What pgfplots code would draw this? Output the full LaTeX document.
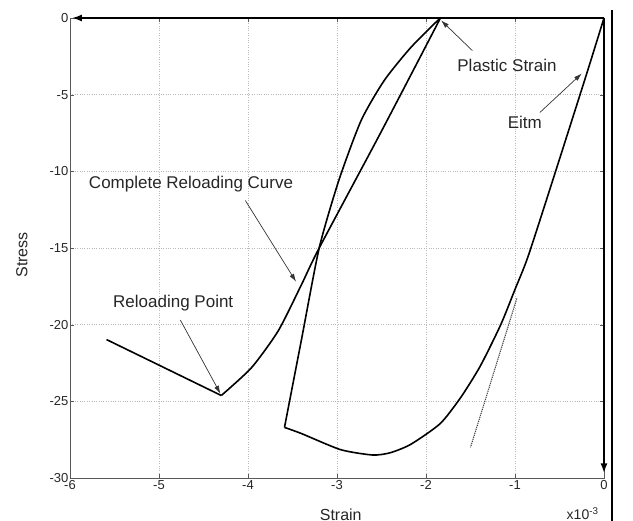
\documentclass[border=0pt]{standalone}
\usepackage{fontspec}
\setmainfont{Liberation Sans}
\usepackage{pgfplots}
\pgfplotsset{compat=1.18}
\usetikzlibrary{arrows.meta}
\begin{document}
\begin{tikzpicture}
\useasboundingbox (-70bp,-43bp) rectangle (563bp,478bp);
\begin{axis}[at={(0,0)}, anchor=south west, scale only axis,
  width=534bp, height=460bp,
  xmin=-6, xmax=0, ymin=-30, ymax=0,
  xtick={-6,-5,-4,-3,-2,-1,0}, xticklabels={-6,-5,-4,-3,-2,-1,0},
  ytick={-30,-25,-20,-15,-10,-5,0}, yticklabels={-30,-25,-20,-15,-10,-5,0},
  tick align=inside, major tick length=4bp,
  grid=major, grid style={gray!55, dotted, line width=0.7bp},
  axis line style={black!65, line width=0.9bp},
  tick style={black!65},
  ticklabel style={font=\fontsize{13bp}{15bp}\selectfont, text=black!85},
  yticklabel style={inner xsep=1.5bp},
  xticklabel style={inner ysep=2bp},
  clip=false,
  xlabel={Strain}, ylabel={Stress},
  label style={font=\fontsize{16bp}{18bp}\selectfont, text=black!85},
  xlabel style={at={(axis description cs:0.507,-0.08)}, anchor=center},
  ylabel style={at={(axis description cs:-0.09,0.485)}, anchor=center},
]
% envelope
\addplot[black, line width=1.6bp, smooth, tension=0.4] coordinates {
(0,0) (-0.19,-3.55) (-0.53,-9.75) (-0.85,-15.5) (-1.0,-17.7) (-1.16,-20.0)
(-1.39,-22.7) (-1.61,-24.75) (-1.84,-26.45) (-2.17,-27.8) (-2.40,-28.35)
(-2.60,-28.5) (-2.96,-28.15) (-3.40,-27.1) (-3.59,-26.7)};
% unloading
\addplot[black, line width=1.6bp, smooth, tension=0.4] coordinates {
(-3.59,-26.7) (-3.40,-21.0) (-3.20,-15.0) (-2.98,-10.6) (-2.73,-6.7)
(-2.47,-4.08) (-2.17,-1.92) (-1.84,0)};
% line into reloading point
\addplot[black, line width=1.6bp] coordinates {(-5.59,-20.97) (-4.30,-24.62)};
% reloading curve
\addplot[black, line width=1.6bp, smooth, tension=0.4] coordinates {
(-4.30,-24.62) (-3.96,-22.8) (-3.66,-20.4) (-3.40,-17.4) (-3.20,-15.0)
(-2.52,-7.6) (-1.90,-0.7) (-1.84,0)};
% Eitm tangent
\addplot[black!80, densely dotted, line width=1.1bp] coordinates {(-0.98,-18.3) (-1.50,-28.0)};
% thick axis arrows
\addplot[black, line width=2.2bp, -{Latex[length=10bp,width=7bp]}] coordinates {(0,0) (-5.98,0)};
\addplot[black, line width=2.2bp, -{Latex[length=10bp,width=7bp]}] coordinates {(0,0) (0,-29.7)};
% border line at right
\draw[black, line width=1.5bp] (axis cs:0.09,0.5) -- (axis cs:0.09,-34);
% annotations
\tikzset{ann/.style={font=\fontsize{17bp}{19bp}\selectfont, text=black!85}}
\tikzset{annarrow/.style={black!80, line width=0.7bp, -{Latex[length=8bp,width=5bp]}}}
\node[ann] at (axis cs:-1.09,-3.10) {Plastic Strain};
\draw[annarrow] (axis cs:-1.48,-2.12) -- (axis cs:-1.83,-0.16);
\node[ann] at (axis cs:-0.89,-6.82) {Eitm};
\draw[annarrow] (axis cs:-0.72,-6.16) -- (axis cs:-0.25,-3.62);
\node[ann] at (axis cs:-4.64,-10.86) {Complete Reloading Curve};
\draw[annarrow] (axis cs:-4.03,-11.9) -- (axis cs:-3.46,-17.2);
\node[ann] at (axis cs:-4.84,-18.6) {Reloading Point};
\draw[annarrow] (axis cs:-4.76,-19.7) -- (axis cs:-4.31,-24.5);
\node[font=\fontsize{14bp}{16bp}\selectfont, text=black!85] at (axis cs:-0.24,-32.3) {x10\textsuperscript{-3}};
\end{axis}
\end{tikzpicture}
\end{document}
